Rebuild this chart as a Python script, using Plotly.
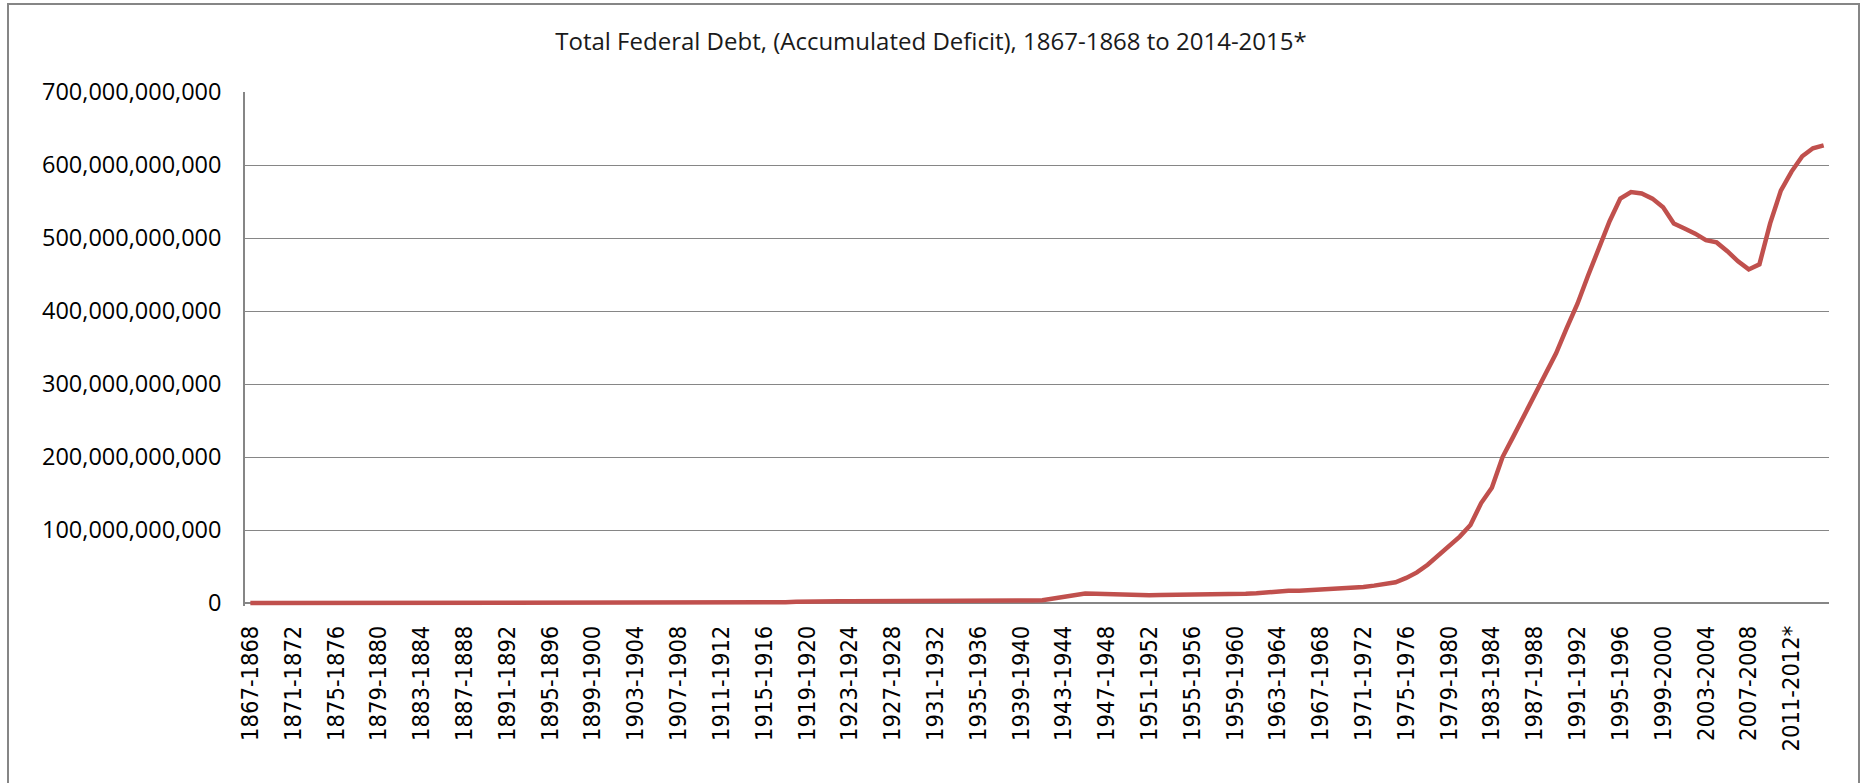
import plotly.graph_objects as go

# ---------------- data ----------------
first_year = 1867
last_year = 2014
projected_from = 2011  # fiscal years marked with "*"
categories = [f"{y}-{y + 1}" + ("*" if y >= projected_from else "")
              for y in range(first_year, last_year + 1)]

# accumulated deficit, billions of dollars
debt_billions = [
    0.076, 0.076, 0.078, 0.078, 0.082, 0.099, 0.108, 0.117, 0.125, 0.134,   # 1867-1876
    0.134, 0.141, 0.147, 0.156, 0.154, 0.158, 0.182, 0.196, 0.224, 0.227,   # 1877-1886
    0.234, 0.235, 0.237, 0.238, 0.241, 0.241, 0.246, 0.253, 0.258, 0.261,   # 1887-1896
    0.263, 0.266, 0.265, 0.268, 0.271, 0.261, 0.261, 0.266, 0.267, 0.263,   # 1897-1906
    0.277, 0.323, 0.336, 0.340, 0.339, 0.314, 0.336, 0.450, 0.616, 0.879,   # 1907-1916
    1.192, 1.675, 2.249, 2.341, 2.422, 2.453, 2.418, 2.418, 2.390, 2.348,   # 1917-1926
    2.297, 2.226, 2.178, 2.261, 2.375, 2.596, 2.731, 2.847, 2.997, 3.083,   # 1927-1936
    3.101, 3.153, 3.271, 3.649, 4.045, 6.183, 8.740, 11.30, 13.00, 12.70,   # 1937-1946
    12.00, 11.40, 11.20, 11.20, 10.60, 11.00, 11.10, 11.30, 11.30, 11.30,   # 1947-1956
    11.40, 12.00, 12.40, 12.90, 13.60, 14.70, 16.60, 16.80, 17.00, 17.70,   # 1957-1966
    18.50, 19.20, 19.50, 20.40, 22.00, 23.90, 25.50, 28.50, 34.50, 42.00,   # 1967-1976
    52.50, 65.50, 77.50, 91.00, 107.0, 137.0, 158.0, 200.0, 228.0, 257.0,   # 1977-1986
    285.0, 313.0, 342.0, 377.0, 410.0, 449.0, 488.0, 523.0, 554.0, 563.0,   # 1987-1996
    561.0, 554.0, 542.0, 520.0, 513.0, 506.0, 497.0, 494.0, 482.0, 468.0,   # 1997-2006
    457.0, 464.0, 520.0, 565.0, 591.0, 612.0, 623.0, 627.0,                 # 2007-2014
]
debt_dollars = [v * 1e9 for v in debt_billions]

title_text = "Total Federal Debt, (Accumulated Deficit), 1867-1868 to 2014-2015*"
y_max = 700e9
y_step = 100e9
y_pad = 4e9

# ---------------- layout geometry (pixels) ----------------
W, H = 1862, 783
plot_left, plot_right = 245, 1829
plot_top, zero_px = 92, 603
px_per_unit = (zero_px - plot_top) / y_max
plot_bottom = zero_px + y_pad * px_per_unit
plot_w = plot_right - plot_left
plot_h = plot_bottom - plot_top

border = dict(left=8, right=1859, top=4, bottom=800)

def px_x(p):
    return (p - plot_left) / plot_w

def px_y(p):
    return (plot_bottom - p) / plot_h

GRID = "#868686"

fig = go.Figure(
    go.Scatter(
        x=categories,
        y=debt_dollars,
        mode="lines",
        line=dict(color="#C0504D", width=4.5),
        hoverinfo="x+y",
    )
)

fig.update_layout(
    width=W,
    height=H,
    margin=dict(l=plot_left, r=W - plot_right, t=plot_top, b=H - plot_bottom, pad=0),
    paper_bgcolor="white",
    plot_bgcolor="white",
    showlegend=False,
    title=dict(
        text=title_text,
        x=0.5, xref="container", xanchor="center",
        y=1 - 42 / H, yref="container", yanchor="middle",
        font=dict(family="Open Sans", size=24, color="#1a1a1a"),
    ),
    shapes=[
        dict(type="rect", xref="paper", yref="paper",
             x0=px_x(border["left"]), x1=px_x(border["right"]),
             y0=px_y(border["bottom"]), y1=px_y(border["top"]),
             line=dict(color=GRID, width=2), fillcolor="rgba(0,0,0,0)", layer="below"),
    ],
)

fig.update_xaxes(
    type="category",
    range=[-0.5, len(categories) - 0.5],
    tickmode="array",
    tickvals=categories[::4],
    ticktext=categories[::4],
    tickangle=-90,
    tickfont=dict(family="Liberation Sans Narrow, Arial Narrow, DejaVu Sans Condensed", size=23.5, color="black"),
    ticks="",
    ticklabelstandoff=14,
    showgrid=False,
    showline=False,
    zeroline=False,
)

fig.update_yaxes(
    range=[-y_pad, y_max],
    tick0=0,
    dtick=y_step,
    tickformat=",.0f",
    tickfont=dict(family="Open Sans", size=23.5, color="black"),
    ticks="",
    ticklabelstandoff=17,
    showgrid=True,
    gridcolor=GRID,
    gridwidth=1.4,
    zeroline=True,
    zerolinecolor=GRID,
    zerolinewidth=1.6,
    showline=True,
    linecolor=GRID,
    linewidth=1.6,
)

fig.write_html("out.html", config={"displayModeBar": False},
               post_script="document.body.style.margin='0px';")
